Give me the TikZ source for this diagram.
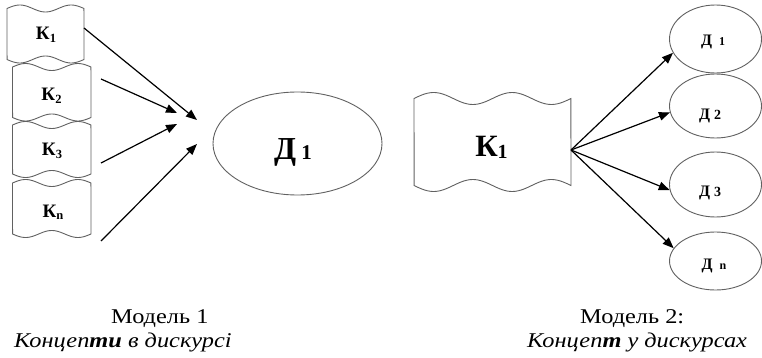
\documentclass[tikz,border=0pt]{standalone}
\usepackage{fontspec}
\setmainfont{Liberation Serif}
\usepackage{graphicx}
\usetikzlibrary{arrows.meta,calc,shapes.geometric}

% bold "К" with a lowered index: size, index size, drop, index
\newcommand\klabel[4]{\fontsize{#1}{#1}\selectfont\bfseries К\raisebox{-#3}{\fontsize{#2}{#2}\selectfont #4}}
% bold "Д" followed by a smaller number: size, number size, gap, number
\newcommand\dlabel[4]{\fontsize{#1}{#1}\selectfont\bfseries Д\hspace{#3}{\fontsize{#2}{#2}\selectfont #4}}
\newcommand\capfont{\fontsize{21pt}{21pt}\selectfont}
% punched-tape outline: x left, x right, y top, y bottom, amplitude, phase sweep (deg)
\newcommand\tape[6]{%
  \draw[outline] plot[domain=0:1,samples=60,smooth] ({#1+(#2-#1)*\x},{#3-#5*sin(#6*\x)})
    -- plot[domain=1:0,samples=60,smooth] ({#1+(#2-#1)*\x},{#4+#5*sin(#6*\x)}) -- cycle;}

\tikzset{
  outline/.style={draw=black!62, line width=0.9pt},
  arr/.style={draw=black, line width=1.2pt, -{Triangle[length=11pt,width=8.5pt]}},
  frame/.style={draw=none, inner sep=0pt, outer sep=0pt},
  disc/.style={ellipse, draw=black!62, line width=0.9pt, inner sep=0pt},
  lbl/.style={inner sep=0pt, anchor=base},
  captxt/.style={inner sep=0pt, anchor=base west},
}

\begin{document}
\begin{tikzpicture}[x=1pt,y=-1pt]
  \path[fill=white] (0,0) rectangle (762,358);
  \useasboundingbox (0,0) rectangle (762,358);

  % ---- model 1: several concepts, one discourse ----
  \node[frame, minimum width=77pt,   minimum height=51pt]   (k1) at (45.5,34)    {};
  \node[frame, minimum width=78.5pt, minimum height=50.5pt] (k2) at (51.75,92.25) {};
  \node[frame, minimum width=78.5pt, minimum height=49pt]   (k3) at (51.75,149.5) {};
  \node[frame, minimum width=78.5pt, minimum height=51pt]   (kn) at (51.75,208.5) {};
  \tape{7}{84}{8.5}{59.5}{3.5}{540}
  \tape{12.5}{91}{67}{117.5}{3.5}{540}
  \tape{12.5}{91}{125}{174}{3.5}{540}
  \tape{12.5}{91}{183}{234}{3.5}{540}
  \node[lbl] (k1t) at (46,40)  {\klabel{19pt}{12.5pt}{2.5pt}{1}};
  \node[lbl] (k2t) at (51.5,101) {\klabel{19pt}{12.5pt}{2.5pt}{2}};
  \node[lbl] (k3t) at (52,156) {\klabel{19pt}{12.5pt}{2.5pt}{3}};
  \node[lbl] (knt) at (53,217) {\klabel{19pt}{12.5pt}{2.5pt}{n}};

  \node[disc, minimum width=169pt, minimum height=103pt] (d) at (297.5,143.5) {};
  \node[lbl] (dt) at (293,160) {\dlabel{32pt}{21pt}{5pt}{1}};

  \coordinate (s2) at (101,79);
  \coordinate (s3) at (101,163);
  \coordinate (s4) at (101,241);
  \coordinate (t1) at (197,120);
  \coordinate (t2) at (177,113);
  \coordinate (t3) at (177,124);
  \coordinate (t4) at (197,144);
  \draw[arr] ([yshift=6pt]k1.east) -- (t1);
  \draw[arr] (s2) -- (t2);
  \draw[arr] (s3) -- (t3);
  \draw[arr] (s4) -- (t4);

  % ---- model 2: one concept, several discourses ----
  \node[frame, minimum width=157pt, minimum height=87pt] (kb) at (492.5,142) {};
  \tape{414}{571}{98.5}{185.5}{6}{720}
  \node[lbl] (kbt) at (491.5,157) {\klabel{31pt}{20pt}{2pt}{1}};

  \node[disc, minimum width=92pt, minimum height=68pt] (d1) at (715.5,39)    {};
  \node[disc, minimum width=92pt, minimum height=64pt] (d2) at (715.5,106)   {};
  \node[disc, minimum width=92pt, minimum height=65pt] (d3) at (715.5,184.5) {};
  \node[disc, minimum width=92pt, minimum height=58pt] (dn) at (715.5,261)   {};
  \node[lbl] (d1t) at (713,46)  {\dlabel{16pt}{12pt}{7pt}{1}};
  \node[lbl] (d2t) at (710,120) {\dlabel{16pt}{14pt}{4pt}{2}};
  \node[lbl] (d3t) at (710,196) {\dlabel{16pt}{14pt}{4pt}{3}};
  \node[lbl] (dnt) at (714,269) {\dlabel{16pt}{12pt}{7pt}{n}};

  \coordinate (src) at ([yshift=-8pt]kb.east);
  \draw[arr] (src) -- (d1.198);
  \draw[arr] (src) -- (d2.188);
  \draw[arr] (src) -- (d3.187);
  \draw[arr] (src) -- (dn.163);

  % ---- captions ----
  \node[captxt] (c1a) at (111,323) {\scalebox{1.16}[1]{\capfont Модель 1}};
  \node[captxt] (c1b) at (14,347)  {\scalebox{1.16}[1]{\capfont\itshape Концеп\textbf{ти} в дискурсі}};
  \node[captxt] (c2a) at (580,323) {\scalebox{1.16}[1]{\capfont Модель 2:}};
  \node[captxt] (c2b) at (527,347) {\scalebox{1.16}[1]{\capfont\itshape Концеп\textbf{т} у дискурсах}};
\end{tikzpicture}
\end{document}
